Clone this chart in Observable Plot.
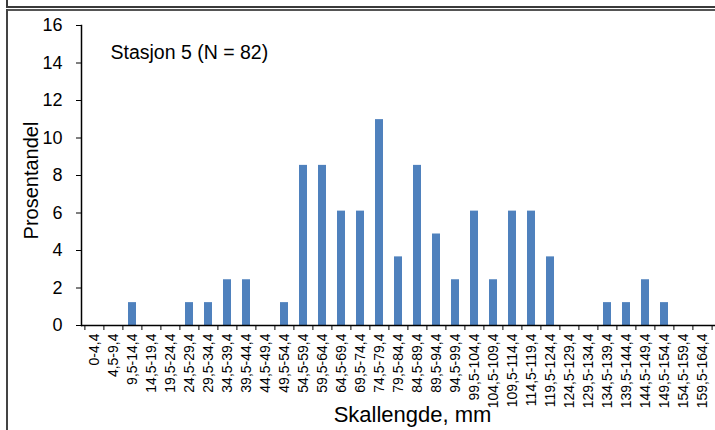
<!DOCTYPE html>
<html><head><meta charset="utf-8">
<script src="https://cdn.jsdelivr.net/npm/d3@7"></script>
<script src="https://cdn.jsdelivr.net/npm/@observablehq/plot@0.6"></script>
<style>
body{margin:0;background:#fff;}
#wrap{position:relative;width:715px;height:430px;overflow:hidden;font-family:"Liberation Sans",Arial,sans-serif;background:#fff;}
#chart{position:absolute;left:0;top:0;}
.ln{position:absolute;background:#3a3a3a;}
</style></head><body>
<div id="wrap"><div id="chart"></div>
<div class="ln" style="left:6px;top:0;width:2px;height:8px"></div>
<div class="ln" style="left:6px;top:6px;width:709px;height:2px"></div>
<div class="ln" style="left:6px;top:9px;width:709px;height:2px;background:#555"></div>
<div class="ln" style="left:6px;top:9px;width:2px;height:421px;background:#444"></div>
</div>
<script>
const categories = ["0-4,4","4,5-9,4","9,5-14,4","14,5-19,4","19,5-24,4","24,5-29,4","29,5-34,4","34,5-39,4","39,5-44,4","44,5-49,4","49,5-54,4","54,5-59,4","59,5-64,4","64,5-69,4","69,5-74,4","74,5-79,4","79,5-84,4","84,5-89,4","89,5-94,4","94,5-99,4","99,5-104,4","104,5-109,4","109,5-114,4","114,5-119,4","119,5-124,4","124,5-129,4","129,5-134,4","134,5-139,4","139,5-144,4","144,5-149,4","149,5-154,4","154,5-159,4","159,5-164,4"];
const percent = [0,0,1.22,0,0,1.22,1.22,2.44,2.44,0,1.22,8.54,8.54,6.10,6.10,10.98,3.66,8.54,4.88,2.44,6.10,2.44,6.10,6.10,3.66,0,0,1.22,1.22,2.44,1.22,0,0];
const yTicks = [0,2,4,6,8,10,12,14,16];
const yLabel = "Prosentandel";
const xLabel = "Skallengde, mm";
const note = "Stasjon 5 (N = 82)";

const data = categories.map((c, i) => ({c, v: percent[i]}));
const W = 715, H = 430, mL = 81, mR = 0, mT = 25, mB = 105;
const step = (W - mL - mR) / categories.length;
const font = "'Liberation Sans', Arial, sans-serif";

const chart = Plot.plot({
  width: W, height: H,
  marginLeft: mL, marginRight: mR, marginTop: mT, marginBottom: mB,
  style: {fontFamily: font, background: "transparent", overflow: "visible", color: "#000"},
  x: {domain: categories, paddingInner: 0.6, paddingOuter: 0.3, label: null},
  y: {domain: [0, 16], label: null},
  marks: [
    Plot.barY(data, {x: "c", y: "v", fill: "#4F81BD"}),
    Plot.axisX({tickSize: 0, tickPadding: 8, tickRotate: -90, fontSize: 14, label: null}),
    Plot.axisX({ticks: categories, tickSize: 5, text: null, dx: -step / 2, label: null}),
    Plot.axisX({ticks: [categories[categories.length - 1]], tickSize: 5, text: null, dx: step / 2, label: null}),
    Plot.axisY({ticks: yTicks, tickSize: 5, tickPadding: 14, fontSize: 18, label: null}),
    Plot.ruleY([0], {stroke: "#000", strokeWidth: 1.5}),
    Plot.frame({anchor: "left", stroke: "#000", strokeWidth: 1.5}),
    Plot.text([yLabel], {text: d => d, frameAnchor: "left", textAnchor: "middle", lineAnchor: "middle", dx: -50, dy: 5, rotate: -90, fontSize: 20}),
    Plot.text([xLabel], {text: d => d, frameAnchor: "bottom", textAnchor: "middle", lineAnchor: "middle", dx: 14, dy: 89, fontSize: 22}),
    Plot.text([note], {text: d => d, frameAnchor: "top-left", textAnchor: "start", lineAnchor: "top", dx: 29, dy: 20, fontSize: 19.5})
  ]
});
document.getElementById("chart").appendChild(chart);
</script>
</body></html>
